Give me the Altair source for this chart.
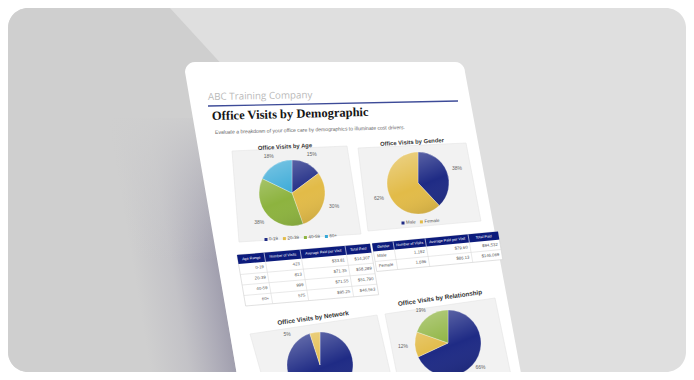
import math
import altair as alt
import pandas as pd

# ---------------- data ----------------
company = "ABC Training Company"
report_title = "Office Visits by Demographic"
report_subtitle = "Evaluate a breakdown of your office care by demographics to illuminate cost drivers."

age_groups = ["0-19", "20-39", "40-59", "60+"]
age_share = [15, 30, 38, 18]
age_visits = ["423", "813", "999", "575"]
age_avg_paid = ["$33.81", "$71.35", "$71.55", "$95.25"]
age_total_paid = ["$14,307", "$58,289", "$51,790", "$46,563"]

genders = ["Male", "Female"]
gender_share = [38, 62]
gender_visits = ["1,192", "1,696"]
gender_avg_paid = ["$79.60", "$86.13"]
gender_total_paid = ["$94,532", "$146,069"]

networks = ["In-Network", "Out-of-Network"]
network_share = [95, 5]

relationships = ["Employee", "Spouse", "Dependent"]
relationship_share = [66, 12, 19]

age_columns = ["Age Range", "Number of Visits", "Average Paid per Visit", "Total Paid"]
gender_columns = ["Gender", "Number of Visits", "Average Paid per Visit", "Total Paid"]

chart_titles = ["Office Visits by Age", "Office Visits by Gender",
                "Office Visits by Network", "Office Visits by Relationship"]

# ---------------- styles ----------------
NAVY, GOLD, GREEN, CYAN = "#1f2b85", "#e2bb48", "#8db33f", "#36a8d6"
HEADER = "#0c1b7c"
SANS, SERIF = "Liberation Sans", "Liberation Serif"
OFF, W, H = 8, 678, 364

XS = alt.Scale(domain=[OFF, OFF + W], nice=False, zero=False)
YS = alt.Scale(domain=[OFF, OFF + H], nice=False, zero=False, reverse=True)


def X(f):
    return alt.X(f + ":Q", scale=XS, axis=None)


def Y(f):
    return alt.Y(f + ":Q", scale=YS, axis=None)


def val(v):
    return alt.value(v - OFF)


ONE = pd.DataFrame({"a": [0]})


def rect_val(x1, y1, x2, y2, **props):
    return alt.Chart(ONE).mark_rect(**props).encode(
        x=val(x1), x2=val(x2), y=val(y1), y2=val(y2))


def poly(pts, **props):
    xs = sorted(set(round(p[0], 4) for p in pts))
    rows = []
    n = len(pts)
    for x in xs:
        ys = []
        for i in range(n):
            x1, y1 = pts[i]
            x2, y2 = pts[(i + 1) % n]
            lo, hi = min(x1, x2), max(x1, x2)
            if lo - 1e-6 <= x <= hi + 1e-6:
                if hi - lo < 1e-6:
                    ys += [y1, y2]
                else:
                    ys.append(y1 + (y2 - y1) * (x - x1) / (x2 - x1))
        rows.append({"x": x, "y": min(ys), "y2": max(ys)})
    return alt.Chart(pd.DataFrame(rows)).mark_area(**props).encode(
        x=X("x"), y=Y("y"), y2="y2:Q")


def texts(rows, angle=0, **props):
    df = pd.DataFrame(rows, columns=["t", "x", "y"])
    return alt.Chart(df).mark_text(angle=angle % 360, **props).encode(
        x=X("x"), y=Y("y"), text="t:N")


def segs(rows, **props):
    df = pd.DataFrame(rows, columns=["x", "y", "x2", "y2"])
    return alt.Chart(df).mark_rule(**props).encode(
        x=X("x"), y=Y("y"), x2="x2:Q", y2="y2:Q")


def pie(cats, shares, colors, cx, cy, r, shown=None, ldx=0, ldy=0, lr=11):
    df = pd.DataFrame({"cat": cats, "share": shares, "idx": list(range(len(cats)))})
    df["lbl"] = [f"{s}%" for s in shares]
    base = alt.Chart(df).encode(
        theta=alt.Theta("share:Q", stack=True),
        order=alt.Order("idx:Q"),
        x=val(cx), y=val(cy))
    arc = base.mark_arc(radius=r, stroke="#ffffff", strokeWidth=0.3).encode(
        color=alt.Color("cat:N", scale=alt.Scale(domain=cats, range=colors), legend=None))
    lab = base.mark_text(radius=r + lr, fontSize=5, font=SANS, color="#666",
                         dx=ldx, dy=ldy).encode(text="lbl:N", detail="cat:N")
    if shown is not None:
        lab = lab.encode(opacity=alt.condition(
            alt.FieldOneOfPredicate(field="cat", oneOf=shown), alt.value(1), alt.value(0)))
    gloss = alt.Chart(ONE).mark_arc(
        radius=r, theta=0, theta2=2 * math.pi,
        color=alt.Gradient(gradient="linear", x1=0.3, y1=0, x2=0.7, y2=1, stops=[
            alt.GradientStop(color="rgba(255,255,255,0.30)", offset=0),
            alt.GradientStop(color="rgba(255,255,255,0)", offset=0.55),
            alt.GradientStop(color="rgba(0,0,0,0.10)", offset=1)])
    ).encode(x=val(cx), y=val(cy))
    return [alt.layer(arc, lab), gloss]


def legend(cats, colors, x0, y0, slope, angle):
    rows_sq, rows_tx = [], []
    x = x0
    for c in cats:
        rows_sq.append({"c": c, "x": x, "y": y0 + (x - x0) * slope})
        rows_tx.append([c, x + 3, y0 + (x + 3 - x0) * slope])
        x += 8 + len(c) * 2.6
    sq = alt.Chart(pd.DataFrame(rows_sq)).mark_square(size=9, opacity=1).encode(
        x=X("x"), y=Y("y"),
        color=alt.Color("c:N", scale=alt.Scale(domain=cats, range=colors), legend=None))
    tx = texts(rows_tx, angle, fontSize=4.5, font=SANS, color="#555", align="left", baseline="middle")
    return [sq, tx]


def table(x0, y0, s, k, edges, head_h, row_h, header, cols, first_align):
    def P(u, v):
        return (x0 + u + v * k, y0 + u * s + v)
    wd = edges[-1]
    n = len(cols[0])
    th = head_h + n * row_h
    ang = math.degrees(math.atan(s))
    out = [poly([P(0, 0), P(wd, 0), P(wd, th), P(0, th)], color="#ffffff",
                stroke="#d4d4d4", strokeWidth=0.7),
           poly([P(0, 0), P(wd, 0), P(wd, head_h), P(0, head_h)], color=HEADER)]
    grid = []
    for i in range(1, n):
        a, b = P(0, head_h + i * row_h), P(wd, head_h + i * row_h)
        grid.append([a[0], a[1], b[0], b[1]])
    for e in edges[1:-1]:
        a, b = P(e, head_h), P(e, th)
        grid.append([a[0], a[1], b[0], b[1]])
    out.append(segs(grid, color="#dadada", strokeWidth=0.6))
    hl = []
    for e in edges[1:-1]:
        a, b = P(e, 0), P(e, head_h)
        hl.append([a[0], a[1], b[0], b[1]])
    out.append(segs(hl, color="#ffffff", strokeWidth=0.6))
    hrows = []
    for j, h in enumerate(header):
        p = P((edges[j] + edges[j + 1]) / 2, head_h / 2)
        hrows.append([h, p[0], p[1]])
    out.append(texts(hrows, ang, fontSize=3.7, font=SANS, color="#ffffff",
                     align="center", baseline="middle"))
    right_rows, left_rows = [], []
    for j, col in enumerate(cols):
        for i, v in enumerate(col):
            vv = head_h + (i + 0.5) * row_h
            if j == 0 and first_align == "left":
                p = P(edges[0] + 3, vv)
                left_rows.append([v, p[0], p[1]])
            else:
                p = P(edges[j + 1] - 2.5, vv)
                right_rows.append([v, p[0], p[1]])
    out.append(texts(right_rows, ang, fontSize=4.3, font=SANS, color="#555",
                     align="right", baseline="middle"))
    if left_rows:
        out.append(texts(left_rows, ang, fontSize=4.3, font=SANS, color="#555",
                         align="left", baseline="middle"))
    return out


def page_left(y):
    return 185 + (y - 62) * 0.166


def page_right(y):
    return 465 + (y - 62) * 0.18


layers = []

# background card
layers.append(rect_val(8, 8, 686, 372, color="#dfdfdf", cornerRadius=20))
layers.append(rect_val(8, 8, 247, 372, color="#cfcfcf", cornerRadius=20))
layers.append(poly([(170, 8), (248, 8), (248, 93)], color="#dfdfdf"))

# shadow next to the page
sy0, sy1, sw = 118, 376, 86
pts = [(page_left(sy0) - sw, sy0), (page_left(sy0), sy0), (page_left(sy1), sy1), (page_left(sy1) - sw, sy1)]
bx0, bx1 = page_left(sy0) - sw, page_left(sy1)
bw = bx1 - bx0
a = (page_left(sy1) - page_left(sy0)) / bw
wu = sw / bw
t = wu / (1 + a * a)
layers.append(poly(pts, color=alt.Gradient(
    gradient="linear", x1=0, y1=0, x2=t, y2=-a * t,
    stops=[alt.GradientStop(color="rgba(168,166,180,0)", offset=0),
           alt.GradientStop(color="rgba(168,166,180,0.3)", offset=0.45),
           alt.GradientStop(color="rgba(162,160,176,0.8)", offset=0.85),
           alt.GradientStop(color="rgba(158,156,172,0.95)", offset=1)])))
layers.append(rect_val(90, 110, 247, 260, color=alt.Gradient(
    gradient="linear", x1=0, y1=0, x2=0, y2=1,
    stops=[alt.GradientStop(color="rgba(207,207,207,1)", offset=0),
           alt.GradientStop(color="rgba(207,207,207,0)", offset=1)])))

# page
r = 10
page_pts = []
for deg in range(180, 271, 15):
    page_pts.append((185 + r + r * math.cos(math.radians(deg)), 62 + r + r * math.sin(math.radians(deg))))
for deg in range(270, 361, 15):
    page_pts.append((465 - r + r * math.cos(math.radians(deg)), 62 + r + r * math.sin(math.radians(deg))))
page_pts += [(page_right(378), 378), (page_left(378), 378)]
layers.append(poly(page_pts, color="#ffffff"))

# header
layers.append(texts([[company, 208, 97]], -1, fontSize=9.8, font="Open Sans", color="#bababa",
                    align="left", baseline="middle"))
layers.append(segs([[208, 106, 458, 101]], color="#3d4b98", strokeWidth=1.3))
layers.append(texts([[report_title, 212, 116]], -1.5, fontSize=12.5, font=SERIF, fontWeight="bold",
                    color="#151515", align="left", baseline="middle"))
layers.append(texts([[report_subtitle, 215, 132]], -1.5, fontSize=5.1, font=SANS, color="#666",
                    align="left", baseline="middle"))

# age chart
layers.append(poly([(232, 151), (347, 146), (361, 234), (239, 242)], color="#f2f2f2",
                   stroke="#e4e4e4", strokeWidth=0.6))
layers.append(texts([[chart_titles[0], 285, 146.5]], -3, fontSize=5.8, font=SANS, fontWeight="bold",
                    color="#333", align="center", baseline="middle"))
layers += pie(age_groups, age_share, [NAVY, GOLD, GREEN, CYAN], 292, 193, 33)
layers += legend(age_groups, [NAVY, GOLD, GREEN, CYAN], 266, 239.5, -0.05, -3)

# gender chart
layers.append(poly([(358, 148), (466, 143), (481, 221), (368, 231)], color="#f2f2f2",
                   stroke="#e4e4e4", strokeWidth=0.6))
layers.append(texts([[chart_titles[1], 412, 142]], -3.5, fontSize=5.8, font=SANS, fontWeight="bold",
                    color="#333", align="center", baseline="middle"))
layers += pie(genders, gender_share, [NAVY, GOLD], 418, 183, 31)
layers += legend(genders, [NAVY, GOLD], 403, 223, -0.06, -3.5)

# tables
layers += table(237, 255, -0.085, 0.17, [0, 27, 63, 108, 133], 9, 10.5, age_columns,
                [age_groups, age_visits, age_avg_paid, age_total_paid], "right")
layers += table(372, 243.5, -0.095, 0.17, [0, 21, 53, 96, 126], 8, 10, gender_columns,
                [genders, gender_visits, gender_avg_paid, gender_total_paid], "left")

# network chart
layers.append(poly([(250, 334), (377, 315), (392, 380), (263, 380)], color="#f2f2f2",
                   stroke="#e4e4e4", strokeWidth=0.6))
layers.append(texts([[chart_titles[2], 313, 318]], -8, fontSize=6.3, font=SANS, fontWeight="bold",
                    color="#333", align="center", baseline="middle"))
layers += pie(networks, network_share, [NAVY, GOLD], 320, 365, 33,
              shown=["Out-of-Network"], ldx=-26, ldy=12)

# relationship chart
layers.append(poly([(385, 314), (495, 298), (512, 380), (398, 380)], color="#f2f2f2",
                   stroke="#e4e4e4", strokeWidth=0.6))
layers.append(texts([[chart_titles[3], 440, 298]], -8, fontSize=6.3, font=SANS, fontWeight="bold",
                    color="#333", align="center", baseline="middle"))
layers += pie(relationships, relationship_share, [NAVY, GOLD, GREEN], 448, 343, 33,
              ldx=-3, ldy=1, lr=9)

chart = alt.layer(*layers).resolve_scale(
    color="independent", theta="independent"
).properties(
    width=W, height=H, padding=0, background="#ffffff",
    autosize=alt.AutoSizeParams(type="none")
).configure_view(strokeWidth=0)

chart.save("out.html", embed_options={"renderer": "svg", "actions": False})
